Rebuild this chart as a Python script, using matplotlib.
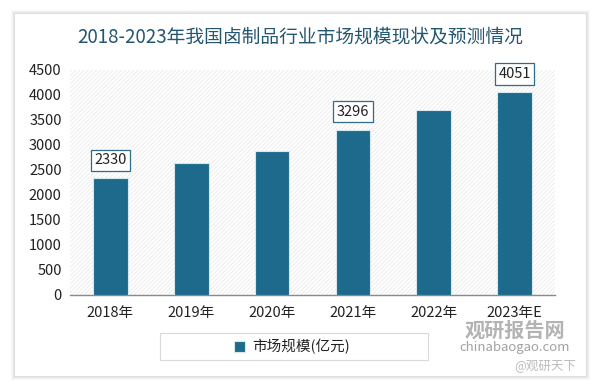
import matplotlib
matplotlib.use("Agg")
import matplotlib.pyplot as plt
from matplotlib.patches import Rectangle

plt.rcParams['font.family'] = ['Noto Sans CJK SC', 'DejaVu Sans']
plt.rcParams['hatch.linewidth'] = 0.5

categories = ["2018年", "2019年", "2020年", "2021年", "2022年", "2023年E"]
values = [2330, 2641, 2874, 3296, 3694, 4051]
labeled = [2330, None, None, 3296, None, 4051]
yticks = [0, 500, 1000, 1500, 2000, 2500, 3000, 3500, 4000, 4500]
title = "2018-2023年我国卤制品行业市场规模现状及预测情况"
legend_label = "市场规模(亿元)"

W, H = 600, 386
fig = plt.figure(figsize=(6, 3.86), dpi=100)
fig.patch.set_facecolor("white")

def fx(x): return x / W
def fy(y): return 1 - y / H

# card shadow
for i, a in enumerate([0.025, 0.03, 0.035, 0.04]):
    d = 4 - i
    fig.patches.append(Rectangle((fx(15 - d), fy(376 + d)), (571 + 2 * d) / W, (362 + 2 * d) / H,
                                 transform=fig.transFigure, facecolor="#000000", alpha=a,
                                 edgecolor="none", zorder=0))
fig.patches.append(Rectangle((fx(15), fy(376)), 571 / W, 362 / H, transform=fig.transFigure,
                             facecolor="white", edgecolor="none", zorder=0.5))

fig.text(0.5, fy(37), title, ha="center", va="center", fontsize=13.5,
         color="#235670")

ax = fig.add_axes([fx(70), fy(295), (555 - 70) / W, (295 - 69.5) / H])
ax.set_zorder(2)
ax.set_facecolor("white")
ax.patch.set_hatch("////////")
ax.patch.set_edgecolor("#e6e6e6")
ax.patch.set_linewidth(0)

bar_color = "#1d6a8c"
x = list(range(len(categories)))
bars = ax.bar(x, values, width=0.43, color=bar_color, edgecolor="#d8e6ee", linewidth=0.8, zorder=3)
ax.set_xlim(-0.5, len(categories) - 0.5)
ax.set_ylim(0, 4500)
ax.set_yticks(yticks)
ax.set_yticklabels([str(t) for t in yticks], fontsize=10.5, color="#222222")
ax.set_xticks(x)
ax.set_xticklabels(categories, fontsize=10.5, color="#222222")
ax.tick_params(axis="both", length=0, pad=6)
ax.tick_params(axis="x", pad=8)
for s in ["top", "right", "left"]:
    ax.spines[s].set_visible(False)
ax.spines["bottom"].set_color("#8a8a8a")
ax.spines["bottom"].set_linewidth(1.0)

for xi, lab in zip(x, labeled):
    if lab is not None:
        ax.annotate(str(lab), (xi, lab), xytext=(0, 13), textcoords="offset points",
                    ha="center", va="center", fontsize=10.5, color="#222222",
                    bbox=dict(boxstyle="square,pad=0.25", facecolor="white",
                              edgecolor="#2c6d8a", linewidth=0.9), zorder=5,
                    annotation_clip=False)

# legend box
fig.patches.append(Rectangle((fx(160), fy(360)), (428 - 160) / W, (360 - 333) / H,
                             transform=fig.transFigure, facecolor="white",
                             edgecolor="#d9d9d9", linewidth=0.8, zorder=1))
leg = fig.legend([bars[0]], [legend_label], loc="center", bbox_to_anchor=(fx(292), fy(347)),
                 frameon=False, fontsize=10.5, handlelength=0.7, handleheight=0.7,
                 handletextpad=0.5)
leg.set_zorder(3)
for t in leg.get_texts():
    t.set_color("#222222")

# watermark
fig.text(fx(515), fy(330), "观研报告网", ha="center", va="center", fontsize=14.5,
         fontweight="bold", color="#9a9a9a", alpha=0.75, zorder=10)
fig.text(fx(515), fy(348), "chinabaogao.com", ha="center", va="center", fontsize=9.5,
         color="#8a8a8a", alpha=0.8, zorder=10)
fig.text(fx(545), fy(366), "@观研天下", ha="center", va="center", fontsize=9,
         color="#b5b5b5", alpha=0.9, zorder=10)

fig.savefig("out.png", dpi=100)
